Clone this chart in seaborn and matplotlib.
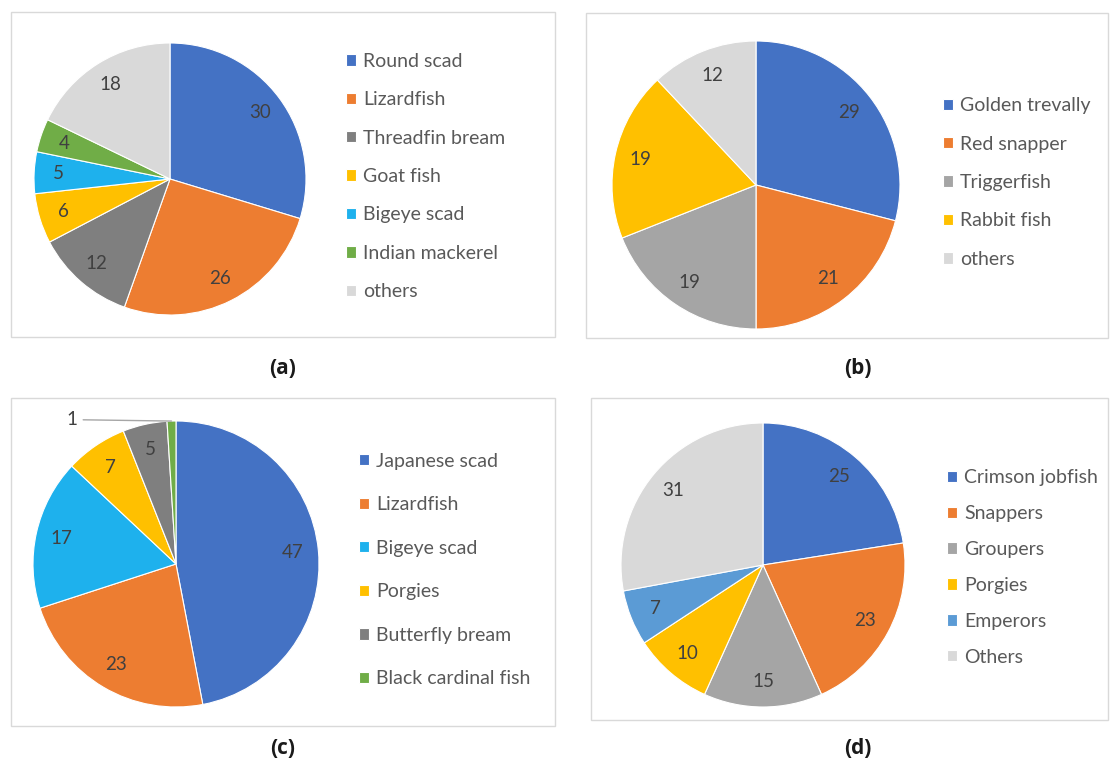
import numpy as np
import matplotlib
matplotlib.use("Agg")
import matplotlib.pyplot as plt
from matplotlib.patches import Rectangle
import seaborn as sns

# Catch composition (%) by species group for four fishing areas
a_species = ["Round scad", "Lizardfish", "Threadfin bream", "Goat fish",
             "Bigeye scad", "Indian mackerel", "others"]
a_values = [30, 26, 12, 6, 5, 4, 18]

b_species = ["Golden trevally", "Red snapper", "Triggerfish", "Rabbit fish", "others"]
b_values = [29, 21, 19, 19, 12]

c_species = ["Japanese scad", "Lizardfish", "Bigeye scad", "Porgies",
             "Butterfly bream", "Black cardinal fish"]
c_values = [47, 23, 17, 7, 5, 1]

d_species = ["Crimson jobfish", "Snappers", "Groupers", "Porgies", "Emperors", "Others"]
d_values = [25, 23, 15, 10, 7, 31]

panel_tags = ["(a)", "(b)", "(c)", "(d)"]

sns.set_theme(style="white")
plt.rcParams["font.family"] = ["Lato", "DejaVu Sans"]

office = dict(blue="#4472C4", orange="#ED7D31", gray="#A5A5A5", dark="#7F7F7F",
              yellow="#FFC000", cyan="#1EB1ED", sky="#5B9BD5", green="#70AD47",
              light="#D9D9D9")
a_colors = sns.color_palette([office[k] for k in
                              ["blue", "orange", "dark", "yellow", "cyan", "green", "light"]])
b_colors = sns.color_palette([office[k] for k in ["blue", "orange", "gray", "yellow", "light"]])
c_colors = sns.color_palette([office[k] for k in
                              ["blue", "orange", "cyan", "yellow", "dark", "green"]])
d_colors = sns.color_palette([office[k] for k in
                              ["blue", "orange", "gray", "yellow", "sky", "light"]])

W, H = 1110, 762
fig = plt.figure(figsize=(W / 100, H / 100), dpi=100)
fig.patch.set_facecolor("white")

LABEL_FS = 13.5
LEGEND_FS = 14

# layout in pixels: frame box, pie centre/radius, legend anchor/row pitch, tag position
panels = [
    dict(names=a_species, values=a_values, colors=a_colors,
         box=(11, 12, 555, 337), pie=(170, 179, 136), legend=(346, 176.5, 38.3), tag=(283, 369)),
    dict(names=b_species, values=b_values, colors=b_colors,
         box=(586, 13, 1108, 338), pie=(756, 185, 144), legend=(943, 182.5, 38.3), tag=(858, 369)),
    dict(names=c_species, values=c_values, colors=c_colors,
         box=(11, 398, 555, 726), pie=(176, 564, 143), legend=(359, 570, 43.5), tag=(283, 748)),
    dict(names=d_species, values=d_values, colors=d_colors,
         box=(591, 398, 1108, 720), pie=(763, 565, 142), legend=(947, 567.5, 35.8), tag=(858, 748)),
]

fs_px = LEGEND_FS * 100 / 72
row_px = 0.87 * fs_px

for p, tag in zip(panels, panel_tags):
    x0, y0, x1, y1 = p["box"]
    fig.add_artist(Rectangle((x0 / W, 1 - y1 / H), (x1 - x0) / W, (y1 - y0) / H,
                             transform=fig.transFigure, fill=False,
                             edgecolor="#D9D9D9", linewidth=1.0))

    cx, cy, r = p["pie"]
    ax = fig.add_axes([(cx - r) / W, 1 - (cy + r) / H, 2 * r / W, 2 * r / H])
    wedges, _ = ax.pie(p["values"], colors=p["colors"], startangle=90, counterclock=False,
                       radius=1, wedgeprops=dict(edgecolor="white", linewidth=0.8))
    ax.set_xlim(-1, 1)
    ax.set_ylim(-1, 1)
    ax.set_aspect("equal")
    ax.axis("off")

    total = sum(p["values"])
    for w, v in zip(wedges, p["values"]):
        mid = np.deg2rad((w.theta1 + w.theta2) / 2)
        if v / total < 0.02:
            ex, ey = np.cos(mid), np.sin(mid)
            ax.annotate(str(v), xy=(ex, ey), xytext=(ex - 0.66, ey + 0.01),
                        ha="right", va="center", fontsize=LABEL_FS, color="#404040",
                        annotation_clip=False,
                        arrowprops=dict(arrowstyle="-", color="#A6A6A6", lw=1.0,
                                        shrinkA=2, shrinkB=0))
        else:
            d = 0.82
            ax.text(d * np.cos(mid), d * np.sin(mid), str(v), ha="center", va="center",
                    fontsize=LABEL_FS, color="#404040")

    lx, ly, pitch = p["legend"]
    spacing = (pitch - row_px) / fs_px
    fig.legend(wedges, p["names"], loc="center left",
               bbox_to_anchor=(lx / W, 1 - ly / H), bbox_transform=fig.transFigure,
               frameon=False, fontsize=LEGEND_FS, labelcolor="#595959",
               handlelength=0.52, handleheight=0.52, handletextpad=0.36,
               labelspacing=spacing, borderpad=0, borderaxespad=0)

    tx, ty = p["tag"]
    fig.text(tx / W, 1 - ty / H, tag, ha="center", va="center", fontsize=15,
             fontweight="bold", family=["Open Sans", "DejaVu Sans"], color="#1A1A1A")

fig.savefig("out.png", dpi=100, facecolor="white")
